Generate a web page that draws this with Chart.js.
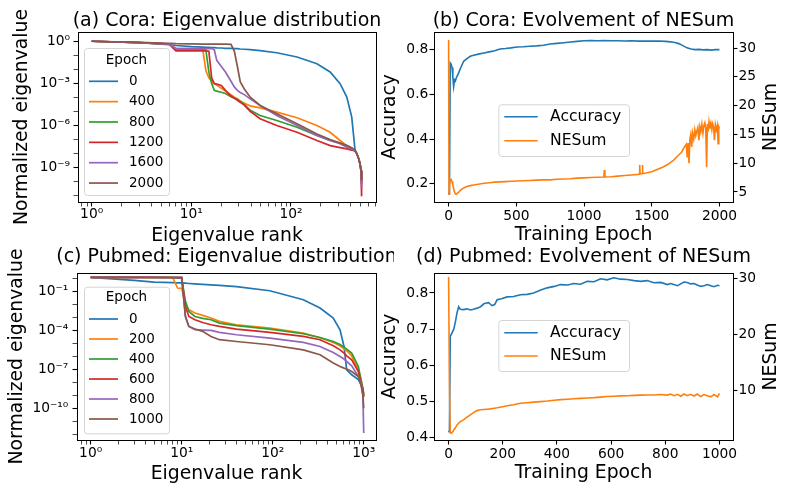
<!DOCTYPE html>
<html>
<head>
<meta charset="utf-8">
<script src="https://cdn.jsdelivr.net/npm/chart.js@4.4.0/dist/chart.umd.min.js"></script>
<style>
  html, body { margin: 0; padding: 0; background: #fff; }
  #fig { position: relative; width: 789px; height: 492px; overflow: hidden; }
  #fig canvas { position: absolute; }
</style>
</head>
<body>
<div id="fig">
  <canvas id="cora-eig" width="394" height="246" style="left:0;top:0"></canvas>
  <canvas id="cora-nes" width="411" height="246" style="left:378px;top:0"></canvas>
  <canvas id="pubmed-eig" width="394" height="246" style="left:0;top:246px"></canvas>
  <canvas id="pubmed-nes" width="411" height="246" style="left:378px;top:246px"></canvas>
</div>
<script>
// ---- data ----
// (a) Cora: log10 of normalized eigenvalue per rank, one list per epoch
const coraRanks = [1, 3, 6, 7, 10, 13, 14, 15, 16, 17, 18, 20, 22, 25, 27, 29, 31, 34, 39, 49, 72, 115, 182, 247, 311, 363, 407, 440, 457, 480, 493, 505, 510, 512];
const coraEigEpochs = ['0', '400', '800', '1200', '1600', '2000'];
const coraEig0 = [0, -0.1, -0.25, -0.3, -0.38, -0.42, -0.43, -0.44, -0.45, -0.46, -0.47, -0.48, -0.5, -0.51, -0.52, -0.53, -0.55, -0.57, -0.6, -0.67, -0.82, -1.12, -1.6, -2.19, -3.02, -3.98, -5.4, -7.8, -8.02, -8.4, -8.74, -9.2, -9.6, -9.9];
const coraEig400 = [0, -0.1, -0.2, -0.52, -0.52, -0.55, -2.1, -2.6, -2.85, -3.0, -3.12, -3.35, -3.55, -3.8, -3.98, -4.1, -4.25, -4.42, -4.6, -4.74, -5.05, -5.45, -6.0, -6.48, -7.07, -7.43, -7.6, -7.8, -8.0, -8.4, -8.74, -9.2, -9.7, -10.0];
const coraEig800 = [0, -0.1, -0.2, -0.6, -0.6, -0.6, -0.62, -2.2, -3.0, -3.5, -3.55, -3.63, -3.72, -3.95, -4.05, -4.15, -4.28, -4.5, -4.92, -5.29, -5.64, -6.12, -6.71, -7.07, -7.25, -7.43, -7.6, -7.8, -8.0, -8.4, -8.74, -9.2, -9.7, -10.2];
const coraEig1200 = [0, -0.1, -0.2, -0.69, -0.69, -0.69, -0.69, -0.72, -2.6, -3.02, -3.05, -3.15, -3.5, -3.9, -4.05, -4.2, -4.35, -4.55, -5.0, -5.52, -6.0, -6.48, -7.07, -7.43, -7.58, -7.67, -7.75, -7.83, -8.0, -8.4, -8.74, -9.3, -10.0, -11.05];
const coraEig1600 = [0, -0.1, -0.2, -0.52, -0.52, -0.52, -0.52, -0.52, -0.52, -0.6, -1.36, -1.8, -2.19, -2.85, -3.25, -3.5, -3.65, -3.8, -4.1, -4.57, -5.29, -6.0, -6.71, -7.07, -7.3, -7.55, -7.68, -7.8, -8.0, -8.4, -8.74, -9.3, -9.9, -10.4];
const coraEig2000 = [0, -0.08, -0.15, -0.17, -0.18, -0.2, -0.2, -0.2, -0.2, -0.2, -0.2, -0.2, -0.2, -0.22, -0.7, -1.8, -2.9, -3.4, -3.98, -4.57, -5.17, -5.88, -6.6, -7.0, -7.25, -7.43, -7.6, -7.75, -8.0, -8.4, -8.74, -9.2, -9.6, -9.9];

// (c) Pubmed: log10 of normalized eigenvalue per rank
const pubmedRanks = [1, 3, 5, 8, 9, 10, 11, 12, 14, 17, 21, 26, 40, 93, 217, 331, 463, 549, 608, 650, 738, 873, 934, 980, 1000];
const pubmedEigEpochs = ['0', '200', '400', '600', '800', '1000'];
const pubmedEig0 = [0.08, -0.15, -0.28, -0.33, -0.34, -0.35, -0.37, -0.39, -0.42, -0.46, -0.5, -0.54, -0.63, -0.95, -1.64, -2.28, -3.05, -3.95, -5.24, -7.04, -7.42, -7.8, -8.19, -8.5, -8.9];
const pubmedEig200 = [0.08, 0.08, 0.08, 0.05, -0.74, -0.76, -2.03, -2.41, -2.67, -2.85, -3.05, -3.31, -3.57, -3.82, -4.21, -4.57, -4.93, -5.19, -5.42, -5.57, -5.96, -7.04, -7.8, -8.5, -9.0];
const pubmedEig400 = [0.08, 0.08, 0.07, 0.06, 0.04, 0.0, -1.77, -2.54, -2.93, -3.08, -3.18, -3.44, -3.64, -3.9, -4.26, -4.55, -4.86, -5.09, -5.29, -5.45, -5.75, -6.78, -7.8, -8.5, -9.1];
const pubmedEig600 = [0.08, 0.08, 0.07, 0.07, 0.06, 0.06, -2.16, -2.93, -3.18, -3.4, -3.57, -3.7, -3.9, -4.16, -4.47, -4.72, -5.19, -5.5, -5.75, -5.96, -6.27, -7.17, -8.07, -8.6, -9.1];
const pubmedEig800 = [0.08, 0.08, 0.08, 0.07, 0.07, 0.06, -2.93, -3.7, -3.95, -3.98, -4.0, -4.16, -4.34, -4.6, -4.93, -5.24, -5.7, -6.01, -6.21, -6.4, -6.73, -7.55, -8.07, -9.0, -11.9];
const pubmedEig1000 = [0.08, 0.08, 0.08, 0.08, 0.08, 0.08, -2.93, -3.7, -3.9, -4.08, -4.47, -4.72, -4.86, -5.11, -5.5, -5.88, -6.52, -6.78, -6.91, -6.98, -7.17, -7.55, -8.19, -9.0, -10.0];

// (b) Cora training curves
const coraAccEpochs = [0, 3, 6, 12, 18, 25, 31, 37, 44, 50, 56, 62, 74, 90, 111, 135, 160, 185, 220, 260, 300, 340, 380, 420, 460, 505, 550, 600, 650, 700, 750, 800, 850, 900, 950, 1000, 1050, 1100, 1150, 1200, 1250, 1300, 1350, 1400, 1450, 1500, 1550, 1600, 1640, 1670, 1700, 1730, 1760, 1790, 1820, 1850, 1880, 1910, 1940, 1970, 2000];
const coraAcc = [0.16, 0.155, 0.17, 0.74, 0.735, 0.72, 0.68, 0.635, 0.665, 0.66, 0.673, 0.68, 0.696, 0.72, 0.748, 0.76, 0.77, 0.775, 0.78, 0.785, 0.79, 0.795, 0.803, 0.805, 0.808, 0.812, 0.813, 0.815, 0.817, 0.82, 0.825, 0.828, 0.831, 0.834, 0.837, 0.84, 0.841, 0.84, 0.841, 0.84, 0.84, 0.839, 0.84, 0.838, 0.839, 0.838, 0.839, 0.837, 0.835, 0.832, 0.827, 0.818, 0.808, 0.803, 0.8, 0.801, 0.799, 0.8, 0.798, 0.8, 0.8];
const coraNesEpochs = [0, 3, 6, 12, 18, 25, 31, 37, 44, 50, 56, 62, 74, 90, 111, 135, 160, 185, 220, 260, 300, 340, 380, 420, 460, 505, 550, 600, 650, 700, 750, 800, 850, 900, 950, 1000, 1050, 1100, 1146, 1150, 1154, 1200, 1250, 1300, 1350, 1400, 1408, 1411, 1414, 1428, 1431, 1434, 1460, 1500, 1540, 1580, 1620, 1660, 1690, 1720, 1740, 1755, 1762, 1768, 1775, 1782, 1788, 1795, 1802, 1810, 1818, 1825, 1832, 1840, 1848, 1855, 1862, 1870, 1878, 1885, 1892, 1899, 1905, 1911, 1917, 1923, 1930, 1937, 1944, 1950, 1957, 1963, 1970, 1977, 1985, 1990, 1995, 2000];
const coraNes = [31.4, 4.6, 6.0, 7.1, 7.2, 6.8, 6.2, 5.6, 5.0, 4.65, 4.6, 4.7, 4.95, 5.35, 5.7, 5.95, 6.1, 6.2, 6.35, 6.5, 6.6, 6.7, 6.75, 6.8, 6.85, 6.9, 6.95, 7.0, 7.05, 7.1, 7.1, 7.2, 7.25, 7.3, 7.4, 7.45, 7.5, 7.55, 7.6, 8.8, 7.6, 7.65, 7.75, 7.85, 7.95, 8.05, 8.1, 9.7, 8.15, 8.2, 9.7, 8.2, 8.3, 8.5, 8.9, 9.3, 9.8, 10.5, 11.2, 11.9, 12.8, 13.3, 11.0, 13.5, 10.0, 14.2, 15.0, 12.8, 15.2, 14.2, 15.8, 14.8, 15.5, 16.2, 14.0, 16.3, 15.5, 16.8, 15.2, 16.5, 17.0, 16.0, 9.3, 16.8, 15.5, 17.2, 16.0, 16.9, 15.8, 16.8, 16.2, 14.0, 16.7, 15.8, 16.6, 13.4, 16.3, 16.0];

// (d) Pubmed training curves
const pubmedEpochs = [0, 3, 6, 12, 19, 25, 31, 37, 43, 55, 68, 80, 92, 105, 118, 130, 140, 148, 155, 160, 170, 179, 195, 216, 240, 265, 290, 314, 340, 364, 390, 413, 440, 462, 487, 512, 537, 561, 585, 610, 635, 660, 685, 709, 733, 758, 783, 808, 820, 832, 845, 857, 869, 881, 893, 906, 918, 931, 943, 955, 968, 980, 993, 1000];
const pubmedAcc = [0.415, 0.42, 0.68, 0.689, 0.7, 0.72, 0.745, 0.762, 0.755, 0.754, 0.756, 0.753, 0.755, 0.758, 0.762, 0.77, 0.772, 0.773, 0.768, 0.765, 0.768, 0.781, 0.784, 0.789, 0.79, 0.795, 0.796, 0.8, 0.808, 0.814, 0.818, 0.823, 0.822, 0.826, 0.824, 0.832, 0.831, 0.839, 0.836, 0.842, 0.838, 0.837, 0.834, 0.832, 0.834, 0.828, 0.829, 0.823, 0.826, 0.823, 0.82, 0.825, 0.83, 0.829, 0.825, 0.826, 0.822, 0.818, 0.82, 0.823, 0.82, 0.817, 0.821, 0.82];
const pubmedNes = [30.2, 10.0, 2.5, 2.5, 3.0, 3.4, 3.9, 4.2, 4.5, 4.8, 5.3, 5.7, 6.1, 6.45, 6.6, 6.65, 6.7, 6.72, 6.78, 6.8, 6.88, 6.95, 7.1, 7.3, 7.5, 7.76, 7.85, 7.95, 8.05, 8.15, 8.3, 8.4, 8.47, 8.55, 8.62, 8.7, 8.75, 8.85, 8.95, 9.0, 9.06, 9.1, 9.15, 9.2, 9.23, 9.22, 9.3, 9.2, 9.4, 9.1, 9.35, 9.0, 9.4, 9.1, 9.35, 9.05, 9.4, 8.95, 9.3, 9.1, 8.9, 9.3, 8.9, 9.5];

// tick positions and labels
const coraRankTicks = [1, 10, 100];
const pubmedRankTicks = [1, 10, 100, 1000];
const rankTickLabels = ['10⁰', '10¹', '10²', '10³'];
const coraEigTicks = [1, 1e-3, 1e-6, 1e-9];
const coraEigTickLabels = ['10⁰', '10⁻³', '10⁻⁶', '10⁻⁹'];
const pubmedEigTicks = [1e-1, 1e-4, 1e-7, 1e-10];
const pubmedEigTickLabels = ['10⁻¹', '10⁻⁴', '10⁻⁷', '10⁻¹⁰'];
const coraEpochTicks = [0, 500, 1000, 1500, 2000];
const pubmedEpochTicks = [0, 200, 400, 600, 800, 1000];
const coraAccTicks = [0.2, 0.4, 0.6, 0.8];
const pubmedAccTicks = [0.4, 0.5, 0.6, 0.7, 0.8];
const coraNesTicks = [5, 10, 15, 20, 25, 30];
const pubmedNesTicks = [10, 20, 30];

// ---- drawing ----
const FONT = 'DejaVu Sans';
const tab10 = ['#1f77b4', '#ff7f0e', '#2ca02c', '#d62728', '#9467bd', '#8c564b'];
Chart.defaults.font.family = FONT;
Chart.defaults.color = '#000';

const tickFont = { family: FONT, size: 13.8 };
const labelFont = { family: FONT, size: 18.8, lineHeight: 1 };

// log tick marks (decades, optionally 2..9 subdivisions) inside [lo, hi]
function logGrid(lo, hi, subs) {
  const out = [];
  for (let e = Math.floor(Math.log10(lo)); e <= Math.ceil(Math.log10(hi)); e++) {
    for (const m of subs) {
      const v = m * Math.pow(10, e);
      if (v >= lo && v <= hi) out.push(v);
    }
  }
  return out;
}

function findTick(values, v) {
  return values.findIndex(t => Math.abs(t - v) <= Math.abs(t) * 1e-9);
}

function axis(o) {
  return {
    type: o.type,
    position: o.position,
    min: o.min,
    max: o.max,
    bounds: 'data',
    afterFit: sc => { if (sc.isHorizontal()) sc.height = o.size; else sc.width = o.size; },
    afterBuildTicks: sc => {
      sc.ticks = o.marks.map(v => ({ value: v, big: findTick(o.labelled, v) >= 0 }));
    },
    ticks: {
      autoSkip: false, maxRotation: 0, minRotation: 0, padding: o.tickPad, color: '#000', font: tickFont,
      callback: v => { const i = findTick(o.labelled, v); return i < 0 ? '' : o.labels[i]; }
    },
    grid: {
      display: true, drawOnChartArea: false, drawTicks: true, tickLength: 4.5, tickColor: '#000',
      tickWidth: c => (c.tick && c.tick.big ? 1.1 : 0.7)
    },
    border: { display: false },
    title: {
      display: !!o.title, text: o.title || '', color: '#000', font: labelFont,
      padding: { top: o.titlePad || 0, bottom: o.titlePad || 0 }
    }
  };
}

// frame, panel title, right-hand axis label and inset legend, matplotlib style
const furniture = {
  id: 'furniture',
  afterDraw(chart, args, opts) {
    const { ctx, chartArea: a } = chart;
    ctx.save();
    ctx.strokeStyle = '#000';
    ctx.lineWidth = 1;
    ctx.strokeRect(Math.round(a.left) + 0.5, Math.round(a.top) + 0.5, Math.round(a.right - a.left), Math.round(a.bottom - a.top));
    ctx.fillStyle = '#000';
    ctx.textBaseline = 'middle';
    ctx.font = `19px "${FONT}"`;
    ctx.textAlign = 'center';
    ctx.fillText(opts.title, (a.left + a.right) / 2, opts.titleY);
    if (opts.rightTitle) {
      ctx.save();
      ctx.translate(opts.rightTitleX, (a.top + a.bottom) / 2);
      ctx.rotate(-Math.PI / 2);
      ctx.font = `18.8px "${FONT}"`;
      ctx.fillText(opts.rightTitle, 0, 0);
      ctx.restore();
    }
    const L = opts.legend;
    ctx.beginPath();
    if (ctx.roundRect) ctx.roundRect(L.x + 0.5, L.y + 0.5, L.w, L.h, 3);
    else ctx.rect(L.x + 0.5, L.y + 0.5, L.w, L.h);
    ctx.fillStyle = 'rgba(255,255,255,0.8)';
    ctx.fill();
    ctx.strokeStyle = '#d4d4d4';
    ctx.lineWidth = 1;
    ctx.stroke();
    ctx.font = `${L.size}px "${FONT}"`;
    ctx.fillStyle = '#000';
    if (L.title) {
      ctx.textAlign = 'center';
      ctx.fillText(L.title, L.x + L.w / 2, L.titleY);
    }
    ctx.textAlign = 'left';
    chart.data.datasets.forEach((ds, i) => {
      const y = L.rowY + i * L.rowGap;
      ctx.beginPath();
      ctx.moveTo(L.lineX0, y);
      ctx.lineTo(L.lineX1, y);
      ctx.strokeStyle = ds.borderColor;
      ctx.lineWidth = ds.borderWidth;
      ctx.stroke();
      ctx.fillStyle = '#000';
      ctx.fillText(ds.label, L.textX, y);
    });
    ctx.restore();
  }
};

function eigDatasets(ranks, series, names) {
  return series.map((vals, i) => ({
    label: names[i],
    data: ranks.map((r, k) => ({ x: r, y: Math.pow(10, vals[k]) })),
    borderColor: tab10[i],
    backgroundColor: tab10[i],
    borderWidth: 1.7,
    pointRadius: 0,
    tension: 0,
    order: series.length - i
  }));
}

function curve(label, xs, ys, color, yAxisID, order) {
  return {
    label, yAxisID, order,
    data: xs.map((x, k) => ({ x, y: ys[k] })),
    borderColor: color, backgroundColor: color,
    borderWidth: 1.6, pointRadius: 0, tension: 0
  };
}

function baseOptions(padding, furn, scales) {
  return {
    responsive: false,
    animation: false,
    events: [],
    layout: { padding },
    plugins: { legend: { display: false }, tooltip: { enabled: false }, furniture: furn },
    scales
  };
}

// (a)
const coraX = [Math.pow(10, -0.137), Math.pow(10, 2.853)];
const coraY = [Math.pow(10, -11.45), Math.pow(10, 0.66)];
new Chart(document.getElementById('cora-eig'), {
  type: 'line',
  data: { datasets: eigDatasets(coraRanks, [coraEig0, coraEig400, coraEig800, coraEig1200, coraEig1600, coraEig2000], coraEigEpochs) },
  options: baseOptions({ top: 32, right: 18, left: 0, bottom: 0 }, {
    title: '(a) Cora: Eigenvalue distribution', titleY: 20.8,
    legend: { x: 84, y: 48, w: 85, h: 147, size: 13.5, title: 'Epoch', titleY: 60.7, rowY: 81.3, rowGap: 20.35, lineX0: 89, lineX1: 118, textX: 129 }
  }, {
    x: axis({ type: 'logarithmic', position: 'bottom', min: coraX[0], max: coraX[1], size: 44, tickPad: 0,
      marks: logGrid(coraX[0], coraX[1], [1, 2, 3, 4, 5, 6, 7, 8, 9]), labelled: coraRankTicks, labels: rankTickLabels,
      title: 'Eigenvalue rank', titlePad: 0 }),
    y: axis({ type: 'logarithmic', position: 'left', min: coraY[0], max: coraY[1], size: 78, tickPad: 3.5,
      marks: logGrid(coraY[0], coraY[1], [1]), labelled: coraEigTicks, labels: coraEigTickLabels,
      title: 'Normalized eigenvalue', titlePad: 13.1 })
  }),
  plugins: [furniture]
});

// (b)
new Chart(document.getElementById('cora-nes'), {
  type: 'line',
  data: { datasets: [
    curve('Accuracy', coraAccEpochs, coraAcc, tab10[0], 'y', 1),
    curve('NESum', coraNesEpochs, coraNes, tab10[1], 'y2', 0)
  ] },
  options: baseOptions({ top: 32, right: 0, left: 0, bottom: 0 }, {
    title: '(b) Cora: Evolvement of NESum', titleY: 20.8, rightTitle: 'NESum', rightTitleX: 392.7,
    legend: { x: 120.3, y: 104.3, w: 130.7, h: 51.7, size: 15.6, rowY: 116.7, rowGap: 24, lineX0: 126.3, lineX1: 159.7, textX: 172 }
  }, {
    x: axis({ type: 'linear', position: 'bottom', min: -108, max: 2100, size: 44, tickPad: 2,
      marks: coraEpochTicks, labelled: coraEpochTicks, labels: coraEpochTicks.map(String),
      title: 'Training Epoch', titlePad: 1.6 }),
    y: axis({ type: 'linear', position: 'left', min: 0.118, max: 0.879, size: 56, tickPad: 1.2,
      marks: coraAccTicks, labelled: coraAccTicks, labels: coraAccTicks.map(v => v.toFixed(1)),
      title: 'Accuracy', titlePad: 3 }),
    y2: axis({ type: 'linear', position: 'right', min: 3.25, max: 32.8, size: 56, tickPad: 1,
      marks: coraNesTicks, labelled: coraNesTicks, labels: coraNesTicks.map(String) })
  }),
  plugins: [furniture]
});

// (c)
const pubmedX = [Math.pow(10, -0.15), Math.pow(10, 3.135)];
const pubmedY = [Math.pow(10, -12.445), Math.pow(10, 0.417)];
new Chart(document.getElementById('pubmed-eig'), {
  type: 'line',
  data: { datasets: eigDatasets(pubmedRanks, [pubmedEig0, pubmedEig200, pubmedEig400, pubmedEig600, pubmedEig800, pubmedEig1000], pubmedEigEpochs) },
  options: baseOptions({ top: 27, right: 18, left: 0, bottom: 0 }, {
    title: '(c) Pubmed: Eigenvalue distribution', titleY: 11,
    legend: { x: 84, y: 40.7, w: 85, h: 146.6, size: 13.5, title: 'Epoch', titleY: 51.7, rowY: 73, rowGap: 20, lineX0: 89, lineX1: 118, textX: 129 }
  }, {
    x: axis({ type: 'logarithmic', position: 'bottom', min: pubmedX[0], max: pubmedX[1], size: 52, tickPad: 1,
      marks: logGrid(pubmedX[0], pubmedX[1], [1, 2, 3, 4, 5, 6, 7, 8, 9]), labelled: pubmedRankTicks, labels: rankTickLabels,
      title: 'Eigenvalue rank', titlePad: 8.3 }),
    y: axis({ type: 'logarithmic', position: 'left', min: pubmedY[0], max: pubmedY[1], size: 77, tickPad: 4.2,
      marks: logGrid(pubmedY[0], pubmedY[1], [1]), labelled: pubmedEigTicks, labels: pubmedEigTickLabels,
      title: 'Normalized eigenvalue', titlePad: 7.4 })
  }),
  plugins: [furniture]
});

// (d)
new Chart(document.getElementById('pubmed-nes'), {
  type: 'line',
  data: { datasets: [
    curve('Accuracy', pubmedEpochs, pubmedAcc, tab10[0], 'y', 1),
    curve('NESum', pubmedEpochs, pubmedNes, tab10[1], 'y2', 0)
  ] },
  options: baseOptions({ top: 27, right: 0, left: 0, bottom: 0 }, {
    title: '(d) Pubmed: Evolvement of NESum', titleY: 11.3, rightTitle: 'NESum', rightTitleX: 392.7,
    legend: { x: 120.3, y: 74, w: 130.7, h: 51, size: 15.6, rowY: 86.7, rowGap: 23.3, lineX0: 126.3, lineX1: 159.7, textX: 172 }
  }, {
    x: axis({ type: 'linear', position: 'bottom', min: -54, max: 1050, size: 52, tickPad: 2,
      marks: pubmedEpochTicks, labelled: pubmedEpochTicks, labels: pubmedEpochTicks.map(String),
      title: 'Training Epoch', titlePad: 9.3 }),
    y: axis({ type: 'linear', position: 'left', min: 0.394, max: 0.855, size: 56, tickPad: 1.2,
      marks: pubmedAccTicks, labelled: pubmedAccTicks, labels: pubmedAccTicks.map(v => v.toFixed(1)),
      title: 'Accuracy', titlePad: 2.3 }),
    y2: axis({ type: 'linear', position: 'right', min: 1.23, max: 30.89, size: 56, tickPad: 1,
      marks: pubmedNesTicks, labelled: pubmedNesTicks, labels: pubmedNesTicks.map(String) })
  }),
  plugins: [furniture]
});
</script>
</body>
</html>
